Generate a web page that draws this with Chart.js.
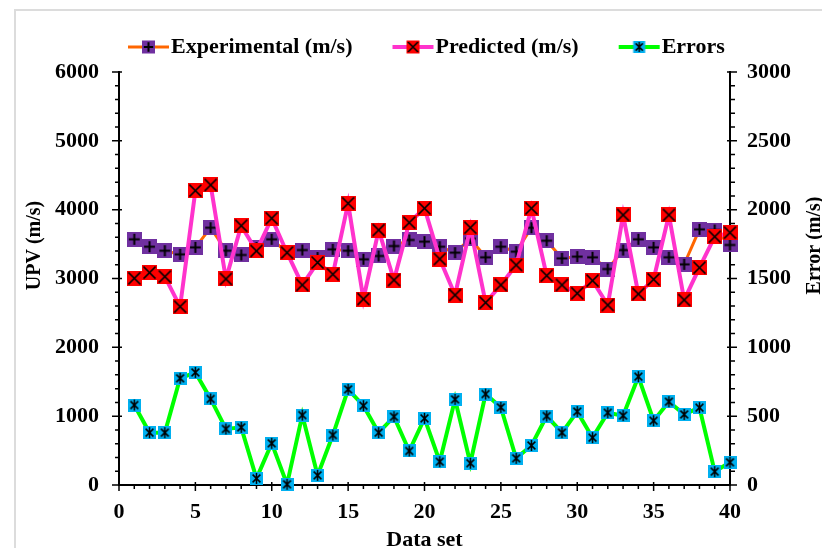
<!DOCTYPE html>
<html>
<head>
<meta charset="utf-8">
<script src="https://cdn.jsdelivr.net/npm/chart.js@4.4.1/dist/chart.umd.min.js"></script>
<style>html,body{margin:0;padding:0;background:#fff;}canvas{display:block;}</style>
</head>
<body>
<canvas id="c" width="822" height="548"></canvas>
<script>
// ---------------- data ----------------
const dataSet = [1,2,3,4,5,6,7,8,9,10,11,12,13,14,15,16,17,18,19,20,21,22,23,24,25,26,27,28,29,30,31,32,33,34,35,36,37,38,39,40];
const experimental = [3570,3462,3404,3351,3453,3738,3404,3342,3448,3570,3380,3414,3305,3424,3404,3279,3327,3472,3560,3535,3462,3375,3580,3308,3462,3390,3738,3549,3293,3317,3308,3138,3414,3570,3453,3308,3206,3714,3704,3487];
const predicted = [3003,3085,3027,2591,4276,4359,2993,3767,3400,3875,3375,2906,3232,3061,4092,2702,3704,2978,3811,4020,3283,2760,3738,2649,2906,3196,4020,3041,2906,2785,2969,2615,3923,2775,2988,3923,2688,3157,3607,3666];
const errors = [581,380,380,775,818,625,407,419,48,303,5,508,70,363,695,576,380,496,247,484,169,622,158,661,564,194,287,501,380,533,344,525,504,787,467,605,513,562,97,165];
const xTickLabels = [0,5,10,15,20,25,30,35,40];
const upvTickLabels = [0,1000,2000,3000,4000,5000,6000];
const errTickLabels = [0,500,1000,1500,2000,2500,3000];
const seriesNames = ['Experimental (m/s)','Predicted (m/s)','Errors'];
const axisTitles = {x: 'Data set', y: 'UPV (m/s)', y2: 'Error (m/s)'};

// ---------------- styling helpers ----------------
const FONT = "'Liberation Serif', 'Times New Roman', serif";
const F = {family: FONT, size: 22, weight: 'bold'};

function drawMarker(g, cx, cy, size, fill, kind) {
  g.fillStyle = fill;
  g.fillRect(cx - size / 2, cy - size / 2, size, size);
  g.strokeStyle = '#000';
  g.lineCap = 'butt';
  g.beginPath();
  if (kind === 'plus') {
    g.lineWidth = 2;
    const a = size * 0.36;
    g.moveTo(cx - a, cy); g.lineTo(cx + a, cy);
    g.moveTo(cx, cy - a); g.lineTo(cx, cy + a);
  } else if (kind === 'x') {
    g.lineWidth = 1.7;
    const b = size / 2 - 1.5;
    g.moveTo(cx - b, cy - b); g.lineTo(cx + b, cy + b);
    g.moveTo(cx + b, cy - b); g.lineTo(cx - b, cy + b);
  } else {
    g.lineWidth = 1.5;
    const b = size * 0.3;
    g.moveTo(cx - b, cy - b); g.lineTo(cx + b, cy + b);
    g.moveTo(cx + b, cy - b); g.lineTo(cx - b, cy + b);
    g.moveTo(cx, cy - size * 0.42); g.lineTo(cx, cy + size * 0.42);
  }
  g.stroke();
}
function markerCanvas(size, fill, kind) {
  const c = document.createElement('canvas');
  c.width = size; c.height = size;
  drawMarker(c.getContext('2d'), size / 2, size / 2, size, fill, kind);
  return c;
}
const LEG_W = 62;       // legend box width
const LEG_IW = 84;      // legend icon image width
function legendIcon(color, width, fill, kind, msize) {
  const c = document.createElement('canvas');
  c.width = LEG_IW; c.height = 20;
  const g = c.getContext('2d');
  g.strokeStyle = color; g.lineWidth = width;
  g.beginPath(); g.moveTo(41, 10); g.lineTo(82, 10); g.stroke();
  drawMarker(g, 61.5, 10, msize, fill, kind);
  return c;
}

const mExp = markerCanvas(15, '#7030A0', 'plus');
const mPred = markerCanvas(15, '#FF0000', 'x');
const mErr = markerCanvas(13, '#00B0F0', 'star');
const legendIcons = [
  legendIcon('#FF6600', 3, '#7030A0', 'plus', 13),
  legendIcon('#FF33CC', 4, '#FF0000', 'x', 13),
  legendIcon('#00FF00', 4, '#00B0F0', 'star', 12)
];

// ---------------- plugins ----------------
const framePlugin = {
  id: 'frame',
  beforeDraw(chart) {
    const ctx = chart.ctx;
    ctx.save();
    ctx.strokeStyle = '#dcdcdc';
    ctx.lineWidth = 2;
    ctx.beginPath();
    ctx.moveTo(15, chart.height); ctx.lineTo(15, 10); ctx.lineTo(chart.width, 10);
    ctx.stroke();
    ctx.restore();
  }
};

const tickPlugin = {
  id: 'tickMarks',
  beforeDatasetsDraw(chart) {
    const {ctx, chartArea: a, scales} = chart;
    const x = scales.x, y = scales.y, y2 = scales.y2;
    ctx.save();
    ctx.strokeStyle = '#000';
    ctx.lineWidth = 1.5;
    ctx.beginPath();
    for (let v = y.min; v <= y.max; v += 200) {
      const p = y.getPixelForValue(v);
      const M = upvTickLabels.includes(v);
      ctx.moveTo(a.left - (M ? 7 : 4), p); ctx.lineTo(a.left + (M ? 3 : 0), p);
    }
    for (let v = y2.min; v <= y2.max; v += 100) {
      const p = y2.getPixelForValue(v);
      const M = errTickLabels.includes(v);
      ctx.moveTo(a.right - (M ? 3 : 0), p); ctx.lineTo(a.right + (M ? 7 : 5), p);
    }
    for (let v = x.min; v <= x.max; v += 1) {
      const p = x.getPixelForValue(v);
      const M = xTickLabels.includes(v);
      ctx.moveTo(p, a.bottom - (M ? 3 : 0)); ctx.lineTo(p, a.bottom + (M ? 6 : 4));
    }
    ctx.stroke();
    ctx.restore();
  }
};

const legendShift = {
  id: 'legendShift',
  afterLayout(chart) {
    const lg = chart.legend;
    if (!lg || !lg.lineWidths) return;
    const pad = lg.options.labels.padding;
    const x0 = ((lg.left + pad) + (lg.right - lg.lineWidths[0])) / 2;
    const desired = 171 - LEG_W - 11;
    const dx = desired - x0;
    lg.left += dx; lg.right += dx;
    lg.top -= 4; lg.bottom -= 4;
  }
};

// vertical axis titles (both read bottom-to-top)
const yTitles = {
  id: 'yTitles',
  afterDraw(chart) {
    const {ctx, chartArea: a, scales} = chart;
    const cy = a.top + (a.bottom - a.top) * 0.42;
    ctx.save();
    ctx.font = 'bold 20px ' + FONT;
    ctx.fillStyle = '#000';
    ctx.textAlign = 'center';
    ctx.textBaseline = 'middle';
    [[scales.y.left + 35, axisTitles.y], [scales.y2.right - 7, axisTitles.y2]].forEach(([tx, t]) => {
      ctx.save();
      ctx.translate(tx, cy);
      ctx.rotate(-Math.PI / 2);
      ctx.fillText(t, 0, 0);
      ctx.restore();
    });
    ctx.restore();
  }
};

// ---------------- chart ----------------
const pts = arr => dataSet.map((x, i) => ({x: x, y: arr[i]}));

new Chart(document.getElementById('c'), {
  type: 'line',
  data: {
    datasets: [
      {label: seriesNames[0], data: pts(experimental), yAxisID: 'y', borderColor: '#FF6600', backgroundColor: '#7030A0',
       borderWidth: 3, pointStyle: mExp, pointRadius: 7, pointHoverRadius: 7, order: 2, clip: false, tension: 0},
      {label: seriesNames[1], data: pts(predicted), yAxisID: 'y', borderColor: '#FF33CC', backgroundColor: '#FF0000',
       borderWidth: 4, pointStyle: mPred, pointRadius: 7, pointHoverRadius: 7, order: 1, clip: false, tension: 0},
      {label: seriesNames[2], data: pts(errors), yAxisID: 'y2', borderColor: '#00FF00', backgroundColor: '#00B0F0',
       borderWidth: 4, pointStyle: mErr, pointRadius: 6, pointHoverRadius: 6, order: 0, clip: false, tension: 0}
    ]
  },
  options: {
    responsive: false,
    animation: false,
    devicePixelRatio: 1,
    events: [],
    layout: {padding: {top: 30, left: 0, right: 0, bottom: 0}},
    plugins: {
      tooltip: {enabled: false},
      legend: {
        display: true,
        position: 'top',
        labels: {
          usePointStyle: true,
          pointStyleWidth: LEG_W,
          padding: 10,
          color: '#000',
          font: F,
          sort: (a, b) => a.datasetIndex - b.datasetIndex,
          generateLabels(chart) {
            const items = Chart.defaults.plugins.legend.labels.generateLabels(chart);
            items.forEach(it => { it.pointStyle = legendIcons[it.datasetIndex]; it.fontColor = '#000'; });
            return items;
          }
        }
      }
    },
    scales: {
      x: {
        type: 'linear', min: 0, max: 40, offset: false,
        grid: {display: false, drawTicks: false},
        border: {display: true, color: '#000', width: 2},
        afterBuildTicks: s => { s.ticks = xTickLabels.map(v => ({value: v})); },
        afterFit: s => { s.height = 63; },
        ticks: {color: '#000', font: F, padding: 14, maxRotation: 0, autoSkip: false, callback: v => String(v)},
        title: {display: true, text: axisTitles.x, color: '#000', font: F, padding: {top: 0, bottom: -6}}
      },
      y: {
        type: 'linear', position: 'left', min: 0, max: 6000,
        grid: {display: false, drawTicks: false},
        border: {display: true, color: '#000', width: 2},
        afterBuildTicks: s => { s.ticks = upvTickLabels.map(v => ({value: v})); },
        afterFit: s => { s.width = 119; },
        ticks: {color: '#000', font: F, padding: 20, callback: v => String(v)},
        title: {display: false}
      },
      y2: {
        type: 'linear', position: 'right', min: 0, max: 3000,
        grid: {display: false, drawTicks: false},
        border: {display: true, color: '#000', width: 2},
        afterBuildTicks: s => { s.ticks = errTickLabels.map(v => ({value: v})); },
        afterFit: s => { s.width = 92; },
        ticks: {color: '#000', font: F, padding: 17, callback: v => String(v)},
        title: {display: false}
      }
    }
  },
  plugins: [framePlugin, tickPlugin, legendShift, yTitles]
});
</script>
</body>
</html>
